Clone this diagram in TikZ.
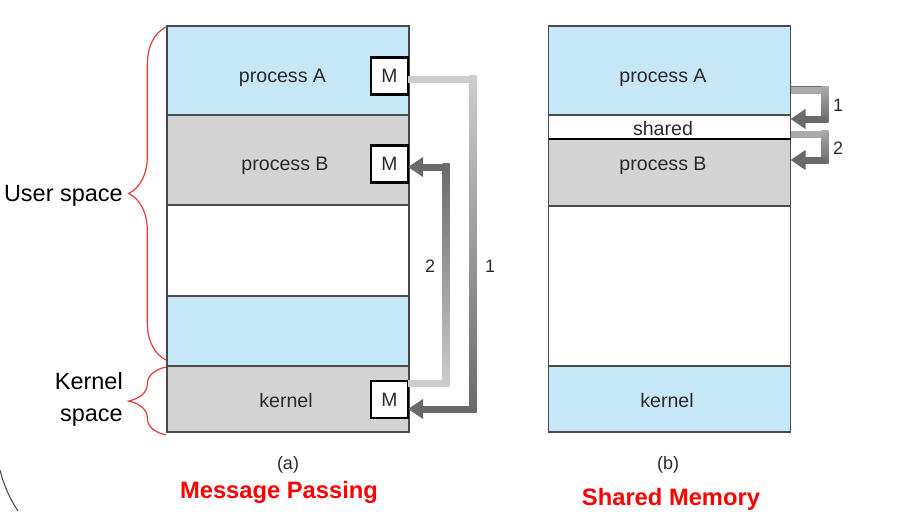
\documentclass[tikz,border=0pt]{standalone}
\usepackage{fontspec}
\setmainfont{Liberation Sans}
\usetikzlibrary{arrows.meta,calc,decorations.pathreplacing}
\definecolor{ublue}{HTML}{C6E7F8}
\definecolor{ugray}{HTML}{D3D3D3}
\definecolor{edge}{HTML}{4A4A4A}
\definecolor{txt}{HTML}{2A2A2A}
\definecolor{lightg}{HTML}{CDCDCD}
\definecolor{darkg}{HTML}{6A6A6A}
\definecolor{midg}{HTML}{ABABAB}
\definecolor{bracered}{HTML}{E83A3A}
\tikzset{
  rowbox/.style={draw=edge, line width=1.1pt, minimum width=242*0.75pt, inner sep=0pt, outer sep=0pt},
  rowtext/.style={text=txt, font=\fontsize{14.7}{17}\selectfont, inner sep=0pt},
  mbox/.style={draw=black, line width=1.6pt, fill=white, minimum width=37*0.75pt, minimum height=37*0.75pt, inner sep=0pt, outer sep=0pt, text=txt, font=\fontsize{14.5}{17}\selectfont},
  arw/.style={line width=5.25pt},
  tipa/.style={-{Triangle[width=14.25pt,length=11.25pt]}},
  numtext/.style={text=txt, font=\fontsize{13.5}{16}\selectfont, inner sep=0pt},
  sidetext/.style={text=black, font=\fontsize{17.6}{21}\selectfont, inner sep=0pt},
  captext/.style={text=txt, font=\fontsize{13.5}{16}\selectfont, inner sep=0pt},
  redtitle/.style={text=red, font=\fontsize{17.8}{21}\selectfont\bfseries, inner sep=0pt},
  bracestyle/.style={draw=bracered, line width=0.9pt, decorate, decoration={brace, amplitude=28pt}}
}
\begin{document}
\begin{tikzpicture}[x=0.75pt, y=-0.75pt]
\useasboundingbox (0,0) rectangle (898,511);
\fill[white] (0,0) rectangle (898,511);
% ---------- (a) message passing ----------
\node[rowbox, fill=ublue, minimum height=89*0.75pt] (pA) at (288,70.5) {};
\node[rowbox, fill=ugray, minimum height=90*0.75pt] (pB) at (288,160) {};
\node[rowbox, fill=white, minimum height=91*0.75pt] (fr) at (288,250.5) {};
\node[rowbox, fill=ublue, minimum height=70*0.75pt] (bl) at (288,331) {};
\node[rowbox, fill=ugray, minimum height=66*0.75pt] (kn) at (288,399) {};
\node[rowtext] (tA) at (282.5,77.5) {process A};
\node[rowtext] (tB) at (285,165.5) {process B};
\node[rowtext] (tK) at (286,400) {kernel};
\node[mbox] (mA) at (389.5,76) {M};
\node[mbox] (mB) at (389.5,164) {M};
\node[mbox] (mK) at (389.5,399.5) {M};
% arrow 1
\coordinate (a1t) at (473,79);
\coordinate (a1b) at (473,409);
\draw[arw, draw=lightg] (mA.east |- a1t) -- (a1t);
\shade[top color=lightg, bottom color=darkg] ($(a1t)+(-3.5,-3.5)$) rectangle ($(a1b)+(3.5,3.5)$);
\draw[arw, draw=darkg, tipa] (a1b) -- (mK.east |- a1b);
% arrow 2
\coordinate (a2b) at (446,383);
\coordinate (a2t) at (446,167);
\draw[arw, draw=lightg] (mK.east |- a2b) -- (a2b);
\shade[top color=darkg, bottom color=lightg] ($(a2t)+(-3.5,-3.5)$) rectangle ($(a2b)+(3.5,3.5)$);
\draw[arw, draw=darkg, tipa] (a2t) -- (mB.east |- a2t);
\node[numtext] (n2a) at (430,266) {2};
\node[numtext] (n1a) at (490,266) {1};
% braces and side labels
\draw[bracestyle] (166,360) -- (166,27);
\draw[bracestyle] (166,435) -- (166,367);
\node[sidetext, anchor=east] (us) at (123,196) {User space};
\node[sidetext, anchor=east, align=right] (ks) at (123,399) {Kernel\\[3pt]space};
% ---------- (b) shared memory ----------
\node[rowbox, fill=ublue, minimum height=89*0.75pt] (qA) at (669.5,70.5) {};
\node[rowbox, fill=white, minimum height=24*0.75pt] (sh) at (669.5,127) {};
\node[rowbox, fill=ugray, minimum height=67*0.75pt] (qB) at (669.5,172.5) {};
\node[rowbox, fill=white, minimum height=160*0.75pt] (fr2) at (669.5,286) {};
\node[rowbox, fill=ublue, minimum height=66*0.75pt] (kn2) at (669.5,399) {};
\draw[black, line width=1.8pt] (qB.north west) -- (qB.north east);
\node[rowtext] (sA) at (663,77.5) {process A};
\node[rowtext] (sS) at (663,128.5) {shared};
\node[rowtext] (sB) at (663,165.5) {process B};
\node[rowtext] (sK) at (667,400) {kernel};
% arrow b1
\coordinate (b1t) at (825,90);
\coordinate (b1b) at (825,119);
\draw[arw, draw=midg] (qA.east |- b1t) -- (b1t);
\draw[line width=1pt, draw=darkg] ($(qA.east |- b1t)+(0,-3.5)$) -- ($(b1t)+(3.5,-3.5)$);
\shade[top color=midg, bottom color=darkg] ($(b1t)+(-3.5,-3.5)$) rectangle ($(b1b)+(3.5,3.5)$);
\draw[arw, draw=darkg, tipa] (b1b) -- (sh.east |- b1b);
% arrow b2
\coordinate (b2t) at (825,134);
\coordinate (b2b) at (825,160);
\draw[arw, draw=midg] (sh.east |- b2t) -- (b2t);
\shade[top color=midg, bottom color=darkg] ($(b2t)+(-3.5,-3.5)$) rectangle ($(b2b)+(3.5,3.5)$);
\draw[arw, draw=darkg, tipa] (b2b) -- (qB.east |- b2b);
\node[numtext] (n1b) at (838,105) {1};
\node[numtext] (n2b) at (838,148) {2};
% captions
\node[captext] (ca) at (288,465) {(a)};
\node[captext] (cb) at (668,465) {(b)};
\node[redtitle] (mp) at (279,492) {Message Passing};
\node[redtitle] (sm) at (671,499) {Shared Memory};
% arc bottom left
\draw[edge, line width=0.8pt] (0,470) .. controls (4,486) and (10,499) .. (18,511);
\end{tikzpicture}
\end{document}
